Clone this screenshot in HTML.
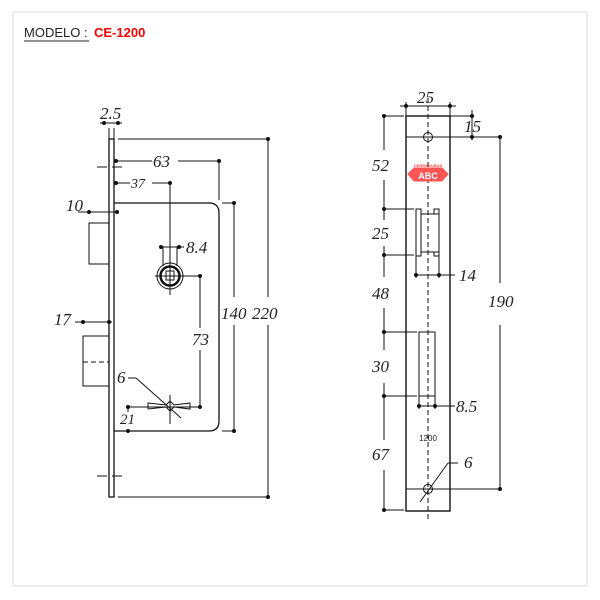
<!DOCTYPE html>
<html><head><meta charset="utf-8"><style>
html,body{margin:0;padding:0;background:#fff}
svg{display:block}
.d{font-family:"Liberation Serif",serif;font-style:italic;font-size:17px;fill:#222}
</style></head><body>
<svg width="600" height="600" viewBox="0 0 600 600" xmlns="http://www.w3.org/2000/svg">
<rect x="13" y="12" width="574" height="574" fill="none" stroke="#ddd" stroke-width="1"/>
<text x="24" y="37" font-family="Liberation Sans,sans-serif" font-size="13" fill="#222">MODELO :</text>
<line x1="24" y1="41" x2="89" y2="41" stroke="#222" stroke-width="1"/>
<text x="94" y="37" font-family="Liberation Sans,sans-serif" font-size="13" font-weight="bold" fill="#f00">CE-1200</text>

<g stroke="#111" fill="none" stroke-width="1">
<!-- left view -->
<rect x="109" y="139" width="5" height="358" stroke-width="1.3"/>
<path d="M114 203 H209 Q219 203 219 213 V421 Q219 431 209 431 H114" stroke-width="1.3"/>
<rect x="89" y="223" width="20" height="41"/>
<rect x="83" y="336" width="26" height="50"/>
<line x1="83" y1="362" x2="109" y2="362" stroke-dasharray="5,3"/>
<line x1="97" y1="167" x2="126" y2="167" stroke-dasharray="10,5"/>
<line x1="97" y1="476" x2="126" y2="476" stroke-dasharray="10,5"/>
<!-- dims -->
<line x1="109" y1="128" x2="109" y2="139"/><line x1="114" y1="128" x2="114" y2="139"/>
<line x1="100" y1="123" x2="122" y2="123"/>
<line x1="118" y1="139" x2="268" y2="139"/><line x1="118" y1="497" x2="268" y2="497"/>
<line x1="268" y1="139" x2="268" y2="297"/><line x1="268" y1="325" x2="268" y2="497"/>
<line x1="114" y1="161" x2="152" y2="161"/><line x1="178" y1="161" x2="219" y2="161"/>
<line x1="219" y1="161" x2="219" y2="200"/>
<line x1="222" y1="203" x2="234" y2="203"/><line x1="222" y1="431" x2="234" y2="431"/>
<line x1="234" y1="203" x2="234" y2="297"/><line x1="234" y1="325" x2="234" y2="431"/>
<line x1="114" y1="183" x2="130" y2="183"/><line x1="152" y1="183" x2="170" y2="183"/>
<line x1="170" y1="183" x2="170" y2="295"/>
<line x1="161" y1="247" x2="184" y2="247"/>
<line x1="163" y1="247" x2="163" y2="266"/><line x1="177" y1="247" x2="177" y2="266"/>
<line x1="155" y1="276" x2="200" y2="276"/>
<line x1="200" y1="276" x2="200" y2="328"/><line x1="200" y1="350" x2="200" y2="407"/>
<line x1="128" y1="407" x2="200" y2="407"/>
<line x1="128" y1="407" x2="128" y2="412"/>
<line x1="170" y1="395" x2="170" y2="424"/>
<path d="M148 403 L166 405 L170 401 L174 405 L190 403 L190 409 L174 407 L170 411 L166 407 L148 409 Z"/>
<line x1="128" y1="378" x2="136" y2="378"/><line x1="136" y1="378" x2="181" y2="418"/>
<line x1="78" y1="212" x2="117" y2="212"/>
<line x1="75" y1="322" x2="112" y2="322"/>
<circle cx="170" cy="276" r="13"/>
<circle cx="170" cy="276" r="9.5" stroke-width="2.5"/>
<rect x="166" y="271" width="8" height="9"/>
<line x1="170" y1="258" x2="170" y2="262"/>
<!-- right view -->
<rect x="406" y="116" width="44" height="395" stroke-width="1.4"/>
<line x1="428" y1="98" x2="428" y2="522" stroke-dasharray="5,3"/>
<circle cx="428" cy="137" r="4.5"/>
<circle cx="428" cy="489" r="4.5"/>
<line x1="406" y1="137" x2="500" y2="137"/>
<line x1="406" y1="489" x2="500" y2="489"/>
<line x1="500" y1="137" x2="500" y2="283"/><line x1="500" y1="325" x2="500" y2="489"/>
<line x1="406" y1="102" x2="406" y2="116"/><line x1="450" y1="102" x2="450" y2="116"/>
<line x1="400" y1="106" x2="456" y2="106"/>
<line x1="450" y1="116" x2="472" y2="116"/><line x1="472" y1="110" x2="472" y2="140"/>
<line x1="384" y1="116" x2="384" y2="150"/><line x1="384" y1="180" x2="384" y2="220"/>
<line x1="384" y1="246" x2="384" y2="277"/><line x1="384" y1="308" x2="384" y2="350"/>
<line x1="384" y1="383" x2="384" y2="440"/><line x1="384" y1="470" x2="384" y2="510"/>
<line x1="384" y1="116" x2="404" y2="116"/>
<line x1="384" y1="209" x2="414" y2="209"/>
<line x1="384" y1="255" x2="414" y2="255"/>
<line x1="384" y1="332" x2="417" y2="332"/>
<line x1="384" y1="396" x2="417" y2="396"/>
<line x1="384" y1="510" x2="404" y2="510"/>
<rect x="416" y="209" width="5" height="47"/>
<rect x="421" y="214" width="18" height="38"/>
<rect x="434" y="209" width="5" height="5"/>
<rect x="434" y="252" width="5" height="4"/>
<line x1="416" y1="256" x2="416" y2="278"/><line x1="439" y1="256" x2="439" y2="278"/>
<line x1="416" y1="275" x2="455" y2="275"/>
<rect x="419" y="332" width="16" height="64"/>
<line x1="419" y1="396" x2="419" y2="409"/><line x1="435" y1="396" x2="435" y2="409"/>
<line x1="419" y1="406" x2="455" y2="406"/>
<line x1="448" y1="463" x2="458" y2="463"/><line x1="448" y1="463" x2="420" y2="502"/>
</g>
<g fill="#111">
<circle cx="104" cy="123" r="2"/><circle cx="118" cy="123" r="2"/>
<circle cx="268" cy="139" r="2"/><circle cx="268" cy="497" r="2"/>
<circle cx="116" cy="161" r="2"/><circle cx="219" cy="161" r="2"/>
<circle cx="116" cy="183" r="2"/><circle cx="170" cy="183" r="2"/>
<circle cx="234" cy="203" r="2"/><circle cx="234" cy="431" r="2"/>
<circle cx="161" cy="247" r="2"/><circle cx="179" cy="247" r="2"/>
<circle cx="200" cy="276" r="2"/><circle cx="200" cy="407" r="2"/>
<circle cx="128" cy="407" r="2"/><circle cx="128" cy="431" r="2"/>
<circle cx="89" cy="212" r="2"/><circle cx="117" cy="212" r="2"/>
<circle cx="83" cy="322" r="2"/><circle cx="109" cy="322" r="2"/>
<circle cx="406" cy="106" r="2"/><circle cx="450" cy="106" r="2"/>
<circle cx="472" cy="116" r="2"/><circle cx="472" cy="137" r="2"/>
<circle cx="500" cy="137" r="2"/><circle cx="500" cy="489" r="2"/>
<circle cx="384" cy="116" r="2"/><circle cx="384" cy="209" r="2"/><circle cx="384" cy="255" r="2"/>
<circle cx="384" cy="332" r="2"/><circle cx="384" cy="396" r="2"/><circle cx="384" cy="510" r="2"/>
<circle cx="416" cy="275" r="2"/><circle cx="439" cy="275" r="2"/>
<circle cx="419" cy="406" r="2"/><circle cx="435" cy="406" r="2"/>
</g>
<g class="d">
<text x="100" y="119">2.5</text>
<text x="153" y="167">63</text>
<text x="131" y="188" font-size="14">37</text>
<text x="66" y="211">10</text>
<text x="186" y="253">8.4</text>
<text x="221" y="319">140</text>
<text x="252" y="319">220</text>
<text x="192" y="345">73</text>
<text x="54" y="325">17</text>
<text x="117" y="383">6</text>
<text x="120" y="424" font-size="15">21</text>
<text x="417" y="103">25</text>
<text x="464" y="132">15</text>
<text x="372" y="171">52</text>
<text x="372" y="239">25</text>
<text x="459" y="281">14</text>
<text x="372" y="299">48</text>
<text x="488" y="307">190</text>
<text x="372" y="372">30</text>
<text x="456" y="412">8.5</text>
<text x="372" y="460">67</text>
<text x="464" y="468">6</text>
</g>
<text x="428" y="441" text-anchor="middle" font-family="Liberation Sans,sans-serif" font-size="8" fill="#222">1200</text>
<g>
<text x="428" y="167" text-anchor="middle" font-family="Liberation Sans,sans-serif" font-size="4" font-weight="bold" fill="#f44">CERRADURAS</text>
<path d="M408 174 L414 168 H442 L448 174 L442 181 H414 Z" fill="#f55" stroke="#f55"/>
<text x="428" y="179" text-anchor="middle" font-family="Liberation Sans,sans-serif" font-size="9" font-weight="bold" fill="#fff">ABC</text>
</g>
</svg>
</body></html>
